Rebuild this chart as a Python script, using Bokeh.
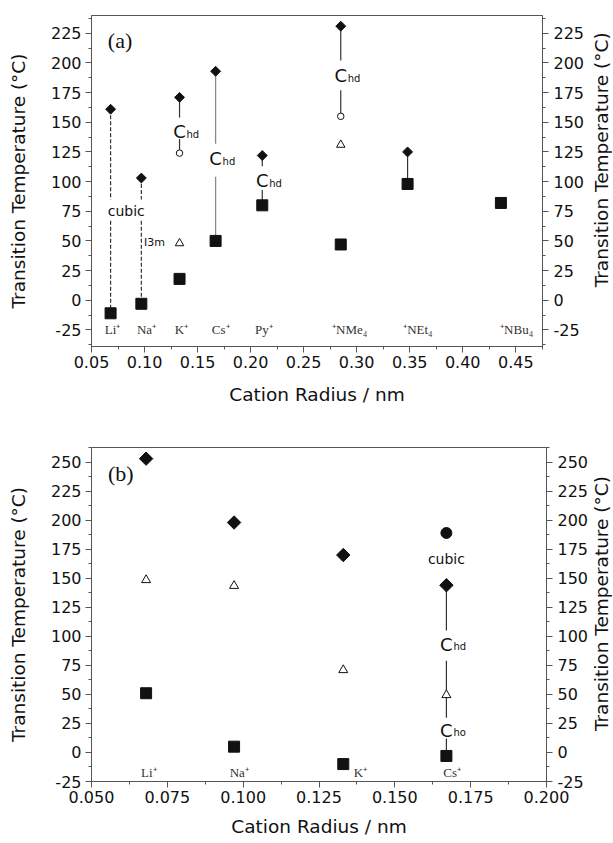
import math
from bokeh.plotting import figure
from bokeh.layouts import column, row
from bokeh.models import FixedTicker, LinearAxis, Range1d, NumeralTickFormatter
from bokeh.core.properties import value
from bokeh.embed import file_html
from bokeh.resources import INLINE

# ---------------- Panel (a) data ----------------
cations_a = ["Li⁺", "Na⁺", "K⁺", "Cs⁺", "Py⁺", "⁺NMe₄", "⁺NEt₄", "⁺NBu₄"]
radius_a = [0.068, 0.097, 0.133, 0.167, 0.211, 0.285, 0.348, 0.436]
square_a = [-11, -3, 18, 50, 80, 47, 98, 82]
diamond_x_a = [0.068, 0.097, 0.133, 0.167, 0.211, 0.285, 0.348]
diamond_a = [161, 103, 171, 193, 122, 231, 125]
circle_x_a = [0.133, 0.285]
circle_a = [124, 155]
triangle_x_a = [0.133, 0.285]
triangle_a = [48, 131]
label_x_a = [0.0698, 0.1019, 0.1348, 0.1718, 0.2125, 0.2934, 0.3577, 0.4508]
label_y_a = [-25] * 8
# tie lines (dark)
tie_x_a = [0.133, 0.133, 0.211, 0.211, 0.285, 0.285, 0.348]
tie_y0_a = [171, 136, 122, 93, 231, 177, 125]
tie_y1_a = [154, 124, 113, 80, 202, 155, 98]
# tie line Cs (grey)
cs_x_a = [0.167, 0.167]
cs_y0_a = [193, 104]
cs_y1_a = [132, 50]
# dashed lines Li, Na
dash_x_a = [0.068, 0.068, 0.097, 0.097]
dash_y0_a = [161, 67, 103, 67]
dash_y1_a = [85, -11, 85, -3]
# phase labels
chd_x_a = [0.133, 0.167, 0.211, 0.285]
chd_y_a = [144.3, 121.5, 103.0, 191.5]
cubic_a = (0.0828, 75.3)
i3m_a = (0.0996, 48.6)
tag_a = (0.0654, 219.0)

xticks_a = [0.05, 0.10, 0.15, 0.20, 0.25, 0.30, 0.35, 0.40, 0.45]
xminor_a = [0.075, 0.125, 0.175, 0.225, 0.275, 0.325, 0.375, 0.425, 0.475]
yticks_a = [-25, 0, 25, 50, 75, 100, 125, 150, 175, 200, 225]
yminor_a = [-37.5, -12.5, 12.5, 37.5, 62.5, 87.5, 112.5, 137.5, 162.5, 187.5, 212.5, 237.5]

# ---------------- Panel (b) data ----------------
cations_b = ["Li⁺", "Na⁺", "K⁺", "Cs⁺"]
radius_b = [0.068, 0.097, 0.133, 0.167]
diamond_b = [253, 198, 170, 144]
triangle_b = [148.5, 143.5, 71, 49.5]
square_b = [51, 5, -10, -3]
circle_x_b = [0.167]
circle_b = [189]
label_x_b = [0.0689, 0.0987, 0.1387, 0.1689]
label_y_b = [-17.5] * 4
tie_x_b = [0.167, 0.167, 0.167, 0.167]
tie_y0_b = [144, 79, 49.5, 12]
tie_y1_b = [105, 49.5, 30, -3]
chd_x_b = [0.167]
chd_y_b = [95.3]
cho_x_b = [0.167]
cho_y_b = [21.2]
cubic_b = (0.167, 166.4)
tag_b = (0.0554, 240.3)

xticks_b = [0.050, 0.075, 0.100, 0.125, 0.150, 0.175, 0.200]
xminor_b = [0.0625, 0.0875, 0.1125, 0.1375, 0.1625, 0.1875]
yticks_b = [-25, 0, 25, 50, 75, 100, 125, 150, 175, 200, 225, 250]
yminor_b = [-12.5, 12.5, 37.5, 62.5, 87.5, 112.5, 137.5, 162.5, 187.5, 212.5, 237.5, 262.5]

# ---------------- styling ----------------
AX = "#555555"
INK = "#111111"
SANS = "DejaVu Sans"
SERIF = "Liberation Serif"
YTITLE = "Transition Temperature (°C)"
XTITLE = "Cation Radius / nm"
LEFT, STRIP = 91, 20


def style_axis(ax, ticks, minor, fmt, title, label_standoff, title_standoff):
    ax.ticker = FixedTicker(ticks=ticks, minor_ticks=minor)
    ax.formatter = NumeralTickFormatter(format=fmt)
    ax.axis_line_color = AX
    ax.major_tick_line_color = AX
    ax.minor_tick_line_color = AX
    ax.major_tick_in = 0
    ax.major_tick_out = 6
    ax.minor_tick_in = 0
    ax.minor_tick_out = 3
    ax.major_label_text_font = SANS
    ax.major_label_text_font_size = "16px"
    ax.major_label_text_color = INK
    ax.major_label_standoff = label_standoff
    ax.axis_label = title
    ax.axis_label_text_font = SANS
    ax.axis_label_text_font_size = "18.5px"
    ax.axis_label_text_font_style = "normal"
    ax.axis_label_text_color = INK
    ax.axis_label_standoff = title_standoff


def make_fig(xr, yr, fw, fh, top, bottom, right, xt, xm, xfmt, yt, ym, x_title_standoff):
    p = figure(x_range=Range1d(*xr), y_range=Range1d(*yr),
               frame_width=fw, frame_height=fh,
               min_border_left=LEFT, min_border_right=right,
               min_border_top=top, min_border_bottom=bottom,
               toolbar_location=None, output_backend="svg",
               background_fill_color="white", border_fill_color="white")
    p.grid.visible = False
    p.outline_line_color = AX
    p.outline_line_width = 1
    style_axis(p.xaxis[0], xt, xm, xfmt, XTITLE, 3, x_title_standoff)
    style_axis(p.yaxis[0], yt, ym, "0", YTITLE, 4, 19)
    ra = LinearAxis()
    style_axis(ra, yt, ym, "0", None, 5, 4)
    p.add_layout(ra, "right")
    return p


def title_strip(top, fh, bottom):
    """Narrow strip to the right holding the right-hand axis title (reads upward)."""
    total = top + fh + bottom
    t = figure(width=STRIP, height=total, x_range=Range1d(0, STRIP),
               y_range=Range1d(0, total), x_axis_type=None, y_axis_type=None,
               min_border=0, toolbar_location=None, output_backend="svg",
               background_fill_color="white", border_fill_color="white")
    t.outline_line_color = None
    t.grid.visible = False
    t.text(x=[STRIP / 2 - 1], y=[bottom + fh / 2], text=[YTITLE],
           angle=math.pi / 2, text_font=value(SANS),
           text_font_size=value("18.5px"), text_color=INK,
           text_align="center", text_baseline="middle")
    return t


def chlabel(p, xs, ys, sub):
    p.text(x=xs, y=ys, text=["C"] * len(xs), text_font=value(SANS),
           text_font_size=value("18px"), text_color=INK,
           text_align="center", text_baseline="alphabetic", y_offset=2.5)
    p.text(x=xs, y=ys, text=[sub] * len(xs), text_font=value(SANS),
           text_font_size=value("10px"), text_color=INK,
           text_align="left", text_baseline="alphabetic", x_offset=7, y_offset=5)


# ---------------- Panel (a) ----------------
A_TOP, A_FH, A_BOT = 15, 331, 68
pa = make_fig((0.05, 0.4752), (-39, 240), 451, A_FH, A_TOP, A_BOT, 50,
              xticks_a, xminor_a, "0.00", yticks_a, yminor_a, 13)

pa.segment(x0=dash_x_a, y0=dash_y0_a, x1=dash_x_a, y1=dash_y1_a,
           line_color="#333333", line_width=1.2, line_dash="4 2")
pa.segment(x0=tie_x_a, y0=tie_y0_a, x1=tie_x_a, y1=tie_y1_a,
           line_color="#333333", line_width=1.2)
pa.segment(x0=cs_x_a, y0=cs_y0_a, x1=cs_x_a, y1=cs_y1_a,
           line_color="#8a8a8a", line_width=1.3)

pa.scatter(x=radius_a, y=square_a, marker="square", size=11,
           fill_color=INK, line_color=INK)
pa.scatter(x=diamond_x_a, y=diamond_a, marker="square", angle=math.pi / 4,
           size=7, fill_color=INK, line_color=INK)
pa.scatter(x=circle_x_a, y=circle_a, marker="circle", size=6.5,
           fill_color="white", line_color=INK, line_width=1)
pa.scatter(x=triangle_x_a, y=triangle_a, marker="triangle", size=8.5,
           fill_color="white", line_color=INK, line_width=1)

pa.text(x=label_x_a, y=label_y_a, text=cations_a, text_font=value(SERIF),
        text_font_size=value("13px"), text_color="#333333",
        text_align="center", text_baseline="middle")
chlabel(pa, chd_x_a, chd_y_a, "hd")
pa.text(x=[cubic_a[0]], y=[cubic_a[1]], text=["cubic"], text_font=value(SANS),
        text_font_size=value("14px"), text_color=INK,
        text_align="center", text_baseline="middle")
pa.text(x=[i3m_a[0]], y=[i3m_a[1]], text=["I3m"], text_font=value(SANS),
        text_font_size=value("11px"), text_color=INK,
        text_align="left", text_baseline="middle")
pa.text(x=[tag_a[0]], y=[tag_a[1]], text=["(a)"], text_font=value(SERIF),
        text_font_size=value("22px"), text_color=INK,
        text_align="left", text_baseline="middle")
ta = title_strip(A_TOP, A_FH, A_BOT)

# ---------------- Panel (b) ----------------
B_TOP, B_FH, B_BOT = 33, 334, 61
pb = make_fig((0.05, 0.2), (-25, 262.6), 455, B_FH, B_TOP, B_BOT, 46,
              xticks_b, xminor_b, "0.000", yticks_b, yminor_b, 10)

pb.segment(x0=tie_x_b, y0=tie_y0_b, x1=tie_x_b, y1=tie_y1_b,
           line_color="#333333", line_width=1.2)
pb.scatter(x=radius_b, y=square_b, marker="square", size=11,
           fill_color=INK, line_color=INK)
pb.scatter(x=radius_b, y=diamond_b, marker="square", angle=math.pi / 4,
           size=9.5, fill_color=INK, line_color=INK)
pb.scatter(x=radius_b, y=triangle_b, marker="triangle", size=9,
           fill_color="white", line_color=INK, line_width=1)
pb.scatter(x=circle_x_b, y=circle_b, marker="circle", size=11,
           fill_color=INK, line_color=INK)

pb.text(x=label_x_b, y=label_y_b, text=cations_b, text_font=value(SERIF),
        text_font_size=value("13px"), text_color="#333333",
        text_align="center", text_baseline="middle")
chlabel(pb, chd_x_b, chd_y_b, "hd")
chlabel(pb, cho_x_b, cho_y_b, "ho")
pb.text(x=[cubic_b[0]], y=[cubic_b[1]], text=["cubic"], text_font=value(SANS),
        text_font_size=value("14px"), text_color=INK,
        text_align="center", text_baseline="middle")
pb.text(x=[tag_b[0]], y=[tag_b[1]], text=["(b)"], text_font=value(SERIF),
        text_font_size=value("22px"), text_color=INK,
        text_align="left", text_baseline="middle")
tb = title_strip(B_TOP, B_FH, B_BOT)

layout = column(row(pa, ta), row(pb, tb))
open("out.html", "w").write(file_html(layout, INLINE))
